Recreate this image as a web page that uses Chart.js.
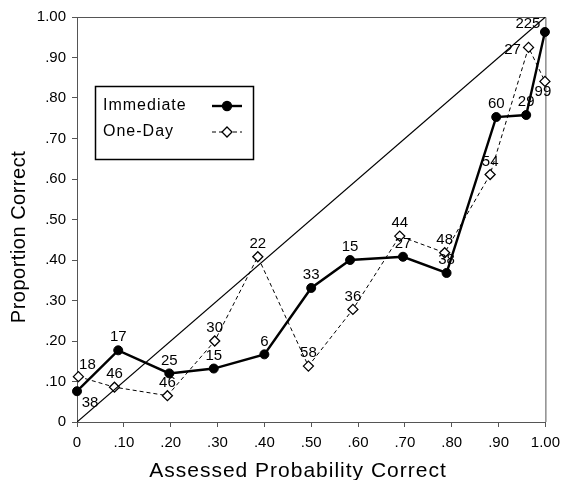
<!DOCTYPE html>
<html>
<head>
<meta charset="utf-8">
<script src="https://cdn.jsdelivr.net/npm/chart.js@4/dist/chart.umd.min.js"></script>
<style>
  html, body { margin: 0; padding: 0; background: #fff; }
  canvas { display: block; }
</style>
</head>
<body>
<canvas id="myChart" width="567" height="480"></canvas>
<script>
// values
const immX = [0.00, 0.088, 0.197, 0.292, 0.40, 0.50, 0.583, 0.696, 0.789, 0.895, 0.959, 0.999];
const immY = [0.076, 0.177, 0.12, 0.132, 0.167, 0.331, 0.40, 0.408, 0.368, 0.753, 0.758, 0.963];
const immN = [38, 17, 25, 15, 6, 33, 15, 27, 38, 60, 29, 225];
const immLabelPos = ['belowRight', 'above', 'above', 'above', 'above', 'above', 'above', 'above', 'above', 'above', 'above', 'aboveLeft'];

const dayX = [0.003, 0.08, 0.193, 0.294, 0.386, 0.494, 0.589, 0.689, 0.785, 0.882, 0.964, 0.999];
const dayY = [0.112, 0.086, 0.065, 0.20, 0.408, 0.138, 0.278, 0.459, 0.418, 0.611, 0.925, 0.841];
const dayN = [18, 46, 46, 30, 22, 58, 36, 44, 48, 54, 27, 99];
const dayLabelPos = ['aboveRight', 'above', 'above', 'above', 'above', 'above', 'above', 'above', 'above', 'above', 'left', 'below'];

const diagX = [0, 1];
const diagY = [0, 1];

const tickLabels = ['0', '.10', '.20', '.30', '.40', '.50', '.60', '.70', '.80', '.90', '1.00'];

const FONT = '"Liberation Sans", Arial, sans-serif';
const AXIS = '#555';

function toPoints(xs, ys) {
    let pts = [];
    for (let i = 0; i < xs.length; i++) pts.push({ x: xs[i], y: ys[i] });
    return pts;
}

const offsets = {
    above: [0, -13],
    belowRight: [13, 12],
    aboveLeft: [-17, -8],
    aboveRight: [9, -12],
    left: [-16, 2],
    below: [-2, 10]
};

// top and right edges of the frame
const framePlugin = {
    id: 'frame',
    beforeDatasetsDraw(chart) {
        const a = chart.chartArea;
        const c = chart.ctx;
        c.save();
        c.strokeStyle = AXIS;
        c.lineWidth = 1;
        c.beginPath();
        c.moveTo(a.left, a.top + 0.5);
        c.lineTo(a.right + 0.5, a.top + 0.5);
        c.lineTo(a.right + 0.5, a.bottom);
        c.stroke();
        c.restore();
    }
};

// the n counts beside each point
const countLabels = {
    id: 'countLabels',
    afterDatasetsDraw(chart) {
        const c = chart.ctx;
        c.save();
        c.font = '15px ' + FONT;
        c.fillStyle = '#000';
        c.textAlign = 'center';
        c.textBaseline = 'middle';
        chart.data.datasets.forEach((ds, di) => {
            if (!ds.counts) return;
            const meta = chart.getDatasetMeta(di);
            meta.data.forEach((pt, i) => {
                const off = offsets[ds.labelPos[i]];
                c.fillText(String(ds.counts[i]), pt.x + off[0], pt.y + off[1]);
            });
        });
        c.restore();
    }
};

// axis titles and legend box
const extras = {
    id: 'extras',
    afterDraw(chart) {
        const c = chart.ctx;
        c.save();
        c.fillStyle = '#000';
        c.letterSpacing = '1px';

        c.font = '21px ' + FONT;
        c.textAlign = 'center';
        c.textBaseline = 'alphabetic';
        c.fillText('Assessed Probability Correct', 298, 477);

        c.save();
        c.translate(19, 237);
        c.rotate(-Math.PI / 2);
        c.font = '20px ' + FONT;
        c.textBaseline = 'middle';
        c.letterSpacing = '0.5px';
        c.fillText('Proportion Correct', 0, 0);
        c.restore();

        // legend
        c.strokeStyle = '#000';
        c.lineWidth = 1.5;
        c.strokeRect(95.5, 86.5, 158, 73);

        c.font = '16px ' + FONT;
        c.textAlign = 'left';
        c.letterSpacing = '1px';
        const sets = [chart.data.datasets[2], chart.data.datasets[1]];
        const rows = [106, 132];
        sets.forEach((ds, i) => {
            const y = rows[i];
            c.textBaseline = 'middle';
            c.fillText(ds.label, 103, y);
            c.beginPath();
            c.setLineDash(ds.borderDash || []);
            c.lineWidth = ds.borderWidth;
            c.strokeStyle = ds.borderColor;
            c.moveTo(212, y);
            c.lineTo(242, y);
            c.stroke();
            c.setLineDash([]);
            c.lineWidth = 1.3;
            c.fillStyle = ds.pointBackgroundColor;
            c.beginPath();
            if (ds.pointStyle === 'rectRot') {
                c.moveTo(227, y - 5);
                c.lineTo(232, y);
                c.lineTo(227, y + 5);
                c.lineTo(222, y);
                c.closePath();
            } else {
                c.arc(227, y, 4.5, 0, Math.PI * 2);
            }
            c.fill();
            c.stroke();
            c.fillStyle = '#000';
            c.strokeStyle = '#000';
        });
        c.restore();
    }
};

const ctx = document.getElementById('myChart');

let chart = new Chart(ctx, {
    type: 'scatter',
    data: {
        datasets: [
            {
                label: 'Perfect',
                data: toPoints(diagX, diagY),
                showLine: true,
                borderColor: '#000',
                borderWidth: 1.2,
                pointRadius: 0
            },
            {
                label: 'One-Day',
                data: toPoints(dayX, dayY),
                counts: dayN,
                labelPos: dayLabelPos,
                showLine: true,
                borderColor: '#000',
                borderWidth: 1,
                borderDash: [4, 3],
                pointStyle: 'rectRot',
                pointRadius: 5,
                pointBorderWidth: 1.3,
                pointBorderColor: '#000',
                pointBackgroundColor: '#fff',
                clip: false
            },
            {
                label: 'Immediate',
                data: toPoints(immX, immY),
                counts: immN,
                labelPos: immLabelPos,
                showLine: true,
                borderColor: '#000',
                borderWidth: 2.4,
                pointStyle: 'circle',
                pointRadius: 4.5,
                pointBorderWidth: 1,
                pointBorderColor: '#000',
                pointBackgroundColor: '#000',
                clip: false
            }
        ]
    },
    options: {
        responsive: false,
        animation: false,
        layout: { padding: { top: 17, right: 15, left: 0, bottom: 0 } },
        plugins: { legend: { display: false }, tooltip: { enabled: false } },
        scales: {
            x: {
                type: 'linear',
                min: 0,
                max: 1,
                afterFit: s => { s.height = 58; },
                ticks: {
                    stepSize: 0.1,
                    padding: 7,
                    color: '#000',
                    font: { size: 15, family: FONT },
                    maxRotation: 0,
                    callback: v => tickLabels[Math.round(v * 10)]
                },
                grid: { drawOnChartArea: false, tickLength: 5, color: AXIS },
                border: { color: AXIS, width: 1 }
            },
            y: {
                type: 'linear',
                min: 0,
                max: 1,
                afterFit: s => { s.width = 77; },
                ticks: {
                    stepSize: 0.1,
                    padding: 6,
                    color: '#000',
                    font: { size: 15, family: FONT },
                    callback: v => tickLabels[Math.round(v * 10)]
                },
                grid: { drawOnChartArea: false, tickLength: 5, color: AXIS },
                border: { color: AXIS, width: 1 }
            }
        }
    },
    plugins: [framePlugin, countLabels, extras]
});
</script>
</body>
</html>
